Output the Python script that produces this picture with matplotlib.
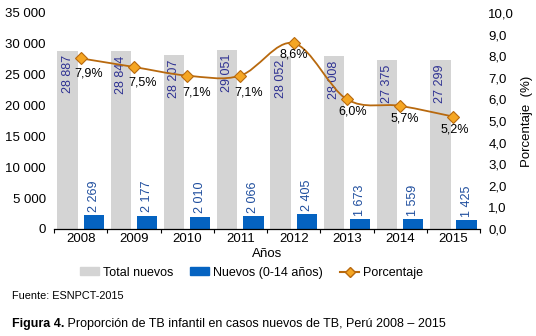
import matplotlib
matplotlib.use("Agg")
import matplotlib.pyplot as plt
import numpy as np
from matplotlib.path import Path
from matplotlib.patches import PathPatch, Patch
from matplotlib.lines import Line2D

plt.rcParams['font.family'] = ['Liberation Sans', 'DejaVu Sans']

years = ['2008', '2009', '2010', '2011', '2012', '2013', '2014', '2015']
total_nuevos = [28887, 28844, 28207, 29051, 28052, 28008, 27375, 27299]
nuevos_0_14 = [2269, 2177, 2010, 2066, 2405, 1673, 1559, 1425]
porcentaje = [7.9, 7.5, 7.1, 7.1, 8.6, 6.0, 5.7, 5.2]

gray = '#D4D4D4'
blue = '#0563C1'
line_col = '#B8690E'
mark_col = '#F5A623'
lab_navy = '#2E3192'
lab_blue = '#1F4E9E'


def fmt_thousands(v):
    return '{:,}'.format(int(v)).replace(',', ' ')


def smooth_path(xs, ys):
    # smoothed line like excel (catmull-rom -> cubic bezier)
    pts = np.column_stack([xs, ys]).astype(float)
    n = len(pts)
    verts = [pts[0]]
    codes = [Path.MOVETO]
    for i in range(n - 1):
        p0 = pts[i - 1] if i > 0 else pts[i]
        p1 = pts[i]
        p2 = pts[i + 1]
        p3 = pts[i + 2] if i + 2 < n else pts[i + 1]
        verts += [p1 + (p2 - p0) / 6.0, p2 - (p3 - p1) / 6.0, p2]
        codes += [Path.CURVE4] * 3
    return Path(verts, codes)


fig = plt.figure(figsize=(5.36, 3.36), dpi=100)
ax = fig.add_axes([0.1007, 0.3185, 0.795, 0.643])
ax2 = ax.twinx()

x = np.arange(len(years))
w = 0.38
off = 0.245
ax.bar(x - off, total_nuevos, w, color=gray, zorder=2)
ax.bar(x + off, nuevos_0_14, w, color=blue, zorder=2)

for xi, v in zip(x, total_nuevos):
    ax.text(xi - off, v - 700, fmt_thousands(v), rotation=90, ha='center', va='top',
            color=lab_navy, fontsize=9, zorder=3)
for xi, v in zip(x, nuevos_0_14):
    ax.text(xi + off, v + 500, fmt_thousands(v), rotation=90, ha='center', va='bottom',
            color=lab_blue, fontsize=9, zorder=3)

ax.set_xlim(-0.5, len(years) - 0.5)
ax.set_ylim(0, 35000)
yt = np.arange(0, 35001, 5000)
ax.set_yticks(yt)
ax.set_yticklabels([fmt_thousands(v) for v in yt], fontsize=9.5)
ax.set_xticks(x)
ax.set_xticklabels(years, fontsize=9.5)
ax.set_xticks(np.arange(-0.5, len(years), 1), minor=True)
ax.tick_params(axis='x', which='major', length=0, pad=3)
ax.tick_params(axis='x', which='minor', length=3, direction='out', width=0.8)
ax.tick_params(axis='y', length=0, pad=6)
for s in ['top', 'right', 'left']:
    ax.spines[s].set_visible(False)
    ax2.spines[s].set_visible(False)
ax2.spines['bottom'].set_visible(False)
ax.spines['bottom'].set_linewidth(0.9)
ax.set_xlabel('Años', fontsize=9.5, labelpad=2)

ax2.set_ylim(0, 10)
pt = np.arange(0, 10.1, 1)
ax2.set_yticks(pt)
ax2.set_yticklabels(['{:.1f}'.format(v).replace('.', ',') for v in pt], fontsize=9.5)
ax2.tick_params(axis='y', length=0, pad=6)
ax2.set_ylabel('Porcentaje  (%)', fontsize=9.5, labelpad=5)

ax2.add_patch(PathPatch(smooth_path(x, porcentaje), fill=False, edgecolor=line_col,
                        lw=1.3, transform=ax2.transData, zorder=4))
ax2.plot(x, porcentaje, ls='none', marker='D', ms=6, mfc=mark_col, mec=line_col,
         mew=0.8, zorder=5)

lab_off = [(6, -11), (6, -11), (7, -12), (6, -12), (0, -8), (4, -9), (3, -9), (1, -9)]
for xi, v, (dx, dy) in zip(x, porcentaje, lab_off):
    ax2.annotate('{:.1f}%'.format(v).replace('.', ','), (xi, v), xytext=(dx, dy),
                 textcoords='offset points', ha='center', va='center', fontsize=9,
                 color='black', zorder=6)

handles = [Patch(color=gray), Patch(color=blue),
           Line2D([], [], color=line_col, lw=1.5, marker='D', ms=5, mfc=mark_col, mec=line_col)]
fig.legend(handles, ['Total nuevos', 'Nuevos (0-14 años)', 'Porcentaje'],
           loc='center', bbox_to_anchor=(0.469, 0.188), ncol=3, frameon=False,
           fontsize=9, handlelength=1.5, handletextpad=0.3, columnspacing=1.4,
           handleheight=0.6)

fig.text(0.022, 0.118, 'Fuente: ESNPCT-2015', fontsize=7.8, va='center')
t1 = fig.text(0.022, 0.037, 'Figura 4.', fontsize=9, fontweight='bold', va='center')
ax.annotate(' Proporción de TB infantil en casos nuevos de TB, Perú 2008 – 2015',
            xy=(1, 0.5), xycoords=t1, va='center', ha='left', fontsize=9)

fig.savefig('out.png', dpi=100)
